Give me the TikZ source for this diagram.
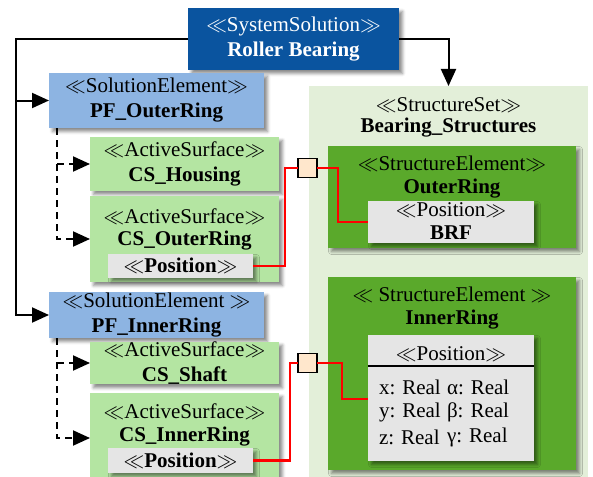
\documentclass[tikz,border=0pt]{standalone}
\usepackage{fontspec}
\setmainfont{Liberation Serif}
\usetikzlibrary{arrows.meta,shadows.blur}

% guillemet-like stereotype brackets
\newcommand{\stl}{\ensuremath{\ll}}
\newcommand{\stg}{\ensuremath{\gg}}

\definecolor{sysblue}{HTML}{0A549F}
\definecolor{solblue}{HTML}{8DB4E2}
\definecolor{surfgreen}{HTML}{B4E5A2}
\definecolor{setgreen}{HTML}{E3EFD9}
\definecolor{elemgreen}{HTML}{5AA92B}
\definecolor{posgrey}{HTML}{E5E5E5}
\definecolor{portfill}{HTML}{FFE7CC}

\begin{document}
\begin{tikzpicture}[x=1pt,y=-1pt,
  every node/.style={font=\fontsize{21}{25}\selectfont, inner sep=0pt, outer sep=0pt},
  shad/.style={blur shadow={shadow xshift=3.5pt, shadow yshift=-3.5pt, shadow blur radius=3pt, shadow opacity=45}},
  box/.style={shad, draw=none, align=center},
  lbl/.style={align=center},
  conn/.style={line width=2pt, -{Triangle[length=17pt,width=15pt]}},
  dconn/.style={line width=2pt, dash pattern=on 7pt off 5pt, -{Triangle[length=17pt,width=15pt]}},
  redline/.style={line width=2.2pt, red},
  port/.style={draw=black, line width=1.8pt, fill=portfill, minimum size=19pt}
]
\useasboundingbox (0,0) rectangle (593,476);

% structure set container
\node[fill=setgreen, minimum width=279pt, minimum height=400pt, anchor=north west] (sset) at (309,86) {};
\node[lbl] (ssetA) at (448.5,105) {\stl StructureSet\stg};
\node[lbl] (ssetB) at (448.5,128) {\textbf{Bearing\_Structures}};

% outer ring structure element
\node[box, fill=elemgreen, minimum width=248pt, minimum height=102pt, anchor=north west] (seo) at (328,146) {};
\node[lbl] (seoA) at (452,164) {\stl StructureElement\stg};
\node[lbl] (seoB) at (452,189) {\textbf{OuterRing}};
\node[box, fill=posgrey, minimum width=166pt, minimum height=42pt, anchor=north west] (brf) at (368,201) {};
\node[lbl] (brfA) at (451,210) {\stl Position\stg};
\node[lbl] (brfB) at (451,233) {\textbf{BRF}};

% inner ring structure element
\node[box, fill=elemgreen, minimum width=248pt, minimum height=193pt, anchor=north west] (sei) at (328,277) {};
\node[lbl] (seiA) at (452,295) {\stl{} StructureElement \stg};
\node[lbl] (seiB) at (452,320) {\textbf{InnerRing}};
\node[box, fill=posgrey, minimum width=166pt, minimum height=126pt, anchor=north west] (posi) at (368,335) {};
\node[lbl] (posiT) at (451,354) {\stl Position\stg};
\draw[line width=2pt] (posi.west |- 0,366) -- (posi.east |- 0,366);
\node[anchor=west] (rx) at (379,387) {x: Real};
\node[anchor=west] (ry) at (379,412) {y: Real};
\node[anchor=west] (rz) at (379,437) {z: Real};
\node[anchor=west] (ra) at (447,387) {α: Real};
\node[anchor=west] (rb) at (447,412) {β: Real};
\node[anchor=west] (rc) at (447,437) {γ: Real};

% system solution
\node[box, fill=sysblue, text=white, minimum width=211pt, minimum height=62pt] (sys) at (293.5,39)
  {\stl SystemSolution\stg\\\textbf{Roller Bearing}};

% outer ring solution element and its surfaces
\node[box, fill=solblue, minimum width=215pt, minimum height=55pt] (pfo) at (156.5,100.5)
  {\stl SolutionElement\stg\\\textbf{PF\_OuterRing}};
\node[box, fill=surfgreen, minimum width=189pt, minimum height=54pt] (csh) at (184.5,164)
  {\stl ActiveSurface\stg\\\textbf{CS\_Housing}};
\node[box, fill=surfgreen, minimum width=189pt, minimum height=86pt, anchor=north west] (cso) at (90,196) {};
\node[lbl] (csoA) at (184.5,217) {\stl ActiveSurface\stg};
\node[lbl] (csoB) at (184.5,241) {\textbf{CS\_OuterRing}};
\node[box, fill=posgrey, minimum width=145pt, minimum height=24pt] (pos1) at (180.5,266) {\textbf{\stl Position\stg}};

% inner ring solution element and its surfaces
\node[box, fill=solblue, minimum width=215pt, minimum height=46pt] (pfi) at (156.5,315)
  {\stl SolutionElement \stg\\\textbf{PF\_InnerRing}};
\node[box, fill=surfgreen, minimum width=189pt, minimum height=42pt] (css) at (184.5,363)
  {\stl ActiveSurface\stg\\\textbf{CS\_Shaft}};
\node[box, fill=surfgreen, minimum width=189pt, minimum height=90pt, anchor=north west] (csi) at (90,393) {};
\node[lbl] (csiA) at (184.5,412) {\stl ActiveSurface\stg};
\node[lbl] (csiB) at (184.5,437) {\textbf{CS\_InnerRing}};
\node[box, fill=posgrey, minimum width=145pt, minimum height=25pt] (pos2) at (180.5,460.5) {\textbf{\stl Position\stg}};

% hierarchy connectors
\coordinate (bus) at (16,39);
\draw[conn] (sys.west) -- (bus) |- (pfi.west);
\draw[conn] (pfo.west -| bus) -- (pfo.west);
\draw[conn] (sys.east) -| (sset.north);

\coordinate (dA) at ([xshift=8pt]pfo.south west);
\coordinate (dB) at ([xshift=8pt]pfi.south west);
\draw[dconn] (dA) |- (cso.west);
\draw[dconn] (csh.west -| dA) -- (csh.west);
\draw[dconn] (dB) |- (csi.west);
\draw[dconn] (css.west -| dB) -- (css.west);

% position links through ports
\node[port] (p1) at (307.5,168) {};
\node[port] (p2) at (307.5,363) {};
\draw[redline] (pos1.east) -- ++(32,0) |- (p1.west);
\draw[redline] (p1.east) -- ++(21,0) |- (brf.west);
\draw[redline] (pos2.east) -- ++(37,0) |- (p2.west);
\draw[redline] (p2.east) -- ++(25,0) |- ([yshift=-1pt]posi.west);
\end{tikzpicture}
\end{document}
